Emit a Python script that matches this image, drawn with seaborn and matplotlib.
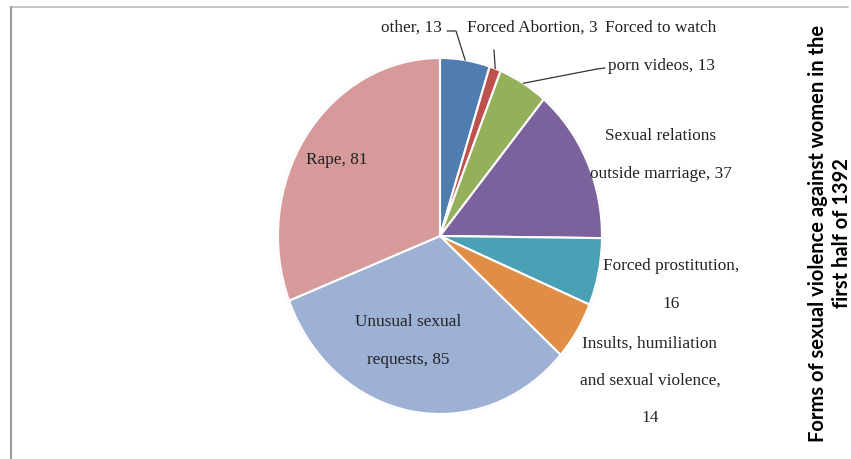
import matplotlib
matplotlib.use('Agg')
import matplotlib.pyplot as plt
import seaborn as sns
import numpy as np
from matplotlib.lines import Line2D

# data
labels = ['other', 'Forced Abortion', 'Forced to watch\nporn videos',
          'Sexual relations\noutside marriage', 'Forced prostitution,\n',
          'Insults, humiliation\nand sexual violence,\n', 'Unusual sexual\nrequests',
          'Rape']
values = [13, 3, 13, 37, 16, 14, 85, 81]
colors = ['#4F7DB0', '#BE504D', '#94B05A', '#7B629C', '#4AA0B5',
          '#E08E46', '#9DB1D4', '#D59A99']
title = 'Forms of sexual violence against women in the\nfirst half of 1392'

sns.set_theme(style='white')
plt.rcParams['font.family'] = ['Liberation Serif', 'DejaVu Serif']

W, H = 851, 459
fig = plt.figure(figsize=(W / 100, H / 100), dpi=100)


def fx(x):
    return x / W


def fy(y):
    return 1 - y / H


# pie axes, slightly taller than wide like the original
cx, cy, rx, ry = 440, 236, 162, 178
ax = fig.add_axes([fx(cx - rx), fy(cy + ry), 2 * rx / W, 2 * ry / H])
wedges, _ = ax.pie(values, colors=colors, startangle=90, counterclock=False,
                   wedgeprops=dict(edgecolor='white', linewidth=1.5))
ax.set_aspect('auto')
ax.set_xlim(-1, 1)
ax.set_ylim(-1, 1)
# faint outer rim
ax.add_patch(plt.Circle((0, 0), 1.0, fill=False, ec='#D8D8D8', lw=1.5, zorder=0))

txt_kw = dict(fontsize=12.4, color='#222222', ha='center', va='center',
              linespacing=2.75)


def label_text(i):
    name = labels[i]
    if name.endswith('\n'):
        return f'{name}{values[i]}'
    return f'{name}, {values[i]}'


# label positions in pixels (x, y from top-left)
label_pos = [(411, 28), (532, 28), (661, 47), (661, 155), (671, 285),
             (650, 381), (408, 341), (337, 160)]
for i, (px, py) in enumerate(label_pos):
    fig.text(fx(px), fy(py), label_text(i), **txt_kw)


def wedge_point(i):
    # mid-angle point on the pie edge, in figure pixels
    w = wedges[i]
    ang = np.deg2rad((w.theta1 + w.theta2) / 2)
    disp = ax.transData.transform((np.cos(ang), np.sin(ang)))
    return fig.transFigure.inverted().transform(disp)


# leader lines: bend points in pixels, then the wedge edge
leaders = {0: [(447, 31), (456, 31)], 1: [(494, 50)], 2: [(605, 68), (597, 69)]}
for i, pts in leaders.items():
    xs = [fx(p[0]) for p in pts]
    ys = [fy(p[1]) for p in pts]
    ex, ey = wedge_point(i)
    xs.append(ex)
    ys.append(ey)
    fig.add_artist(Line2D(xs, ys, color='#333333', lw=0.9))

# title on the right, rotated
fig.text(fx(830), fy(233), title, rotation=90, ha='center', va='center',
         fontsize=14.5, fontweight='bold', family=['Lato', 'DejaVu Sans'],
         linespacing=1.2, color='black')

# chart frame (only top and left edges visible)
fig.add_artist(Line2D([fx(11), fx(848)], [fy(7), fy(7)], color='#BBBBBB', lw=1.2))
fig.add_artist(Line2D([fx(11), fx(11)], [fy(7), fy(459)], color='#999999', lw=1.5))

fig.savefig('out.png', dpi=100)
plt.close(fig)
